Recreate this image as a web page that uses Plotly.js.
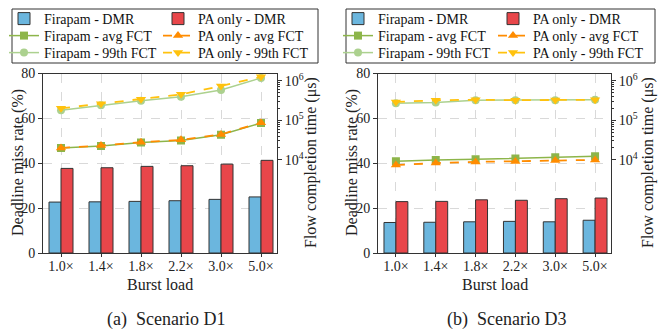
<!DOCTYPE html>
<html><head><meta charset="utf-8">
<script src="https://cdn.plot.ly/plotly-3.0.1.min.js"></script>
<style>body{margin:0;background:#fff}#plot{width:660px;height:331px}</style>
</head><body><div id="plot"></div>
<script>
const categories = ["1.0×","1.4×","1.8×","2.2×","3.0×","5.0×"];
// Scenario D1
const d1FirapamDMR = [22.7, 22.8, 23.0, 23.3, 23.9, 25.0];
const d1PaDMR      = [37.7, 38.0, 38.6, 38.9, 39.6, 41.3];
const d1FirapamAvg = [2.0e4, 2.25e4, 2.75e4, 3.1e4, 4.3e4, 8.5e4];
const d1PaAvg      = [2.0e4, 2.3e4, 2.8e4, 3.2e4, 4.4e4, 8.7e4];
const d1Firapam99  = [1.8e5, 2.4e5, 3.1e5, 3.9e5, 5.8e5, 1.17e6];
const d1Pa99       = [2.0e5, 2.6e5, 3.4e5, 4.5e5, 7.3e5, 1.25e6];
// Scenario D3
const d3FirapamDMR = [13.6, 13.7, 13.9, 14.1, 13.9, 14.6];
const d3PaDMR      = [22.9, 23.0, 23.7, 23.5, 24.2, 24.5];
const d3FirapamAvg = [9.2e3, 1.0e4, 1.03e4, 1.08e4, 1.17e4, 1.23e4];
const d3PaAvg      = [7.4e3, 8.3e3, 8.9e3, 9.1e3, 9.6e3, 1.0e4];
const d3Firapam99  = [2.7e5, 2.8e5, 3.2e5, 3.2e5, 3.2e5, 3.3e5];
const d3Pa99       = [2.9e5, 3.2e5, 3.3e5, 3.2e5, 3.25e5, 3.3e5];
const fctTickVals  = [1e4, 1e5, 1e6];
const fctTickText  = ["10<sup>4</sup>", "10<sup>5</sup>", "10<sup>6</sup>"];
const fctMinorVals = [2e4,3e4,4e4,5e4,6e4,7e4,8e4,9e4,2e5,3e5,4e5,5e5,6e5,7e5,8e5,9e5,2e6,3e6,4e6,5e6];

const FONT = "Liberation Serif";
const C = {blue:"#6bb6de", red:"#e8464a", green:"#8db54a", lgreen:"#acd18f", orange:"#ff8c00", gold:"#ffc20e", edge:"#333"};

function panel(sfx, dmrF, dmrP, avgF, avgP, p99F, p99P, L){
  const xa = sfx === 1 ? "x" : "x" + sfx;
  const ya = sfx === 1 ? "y" : "y" + (2*sfx-1);
  const y2 = sfx === 1 ? "y2" : "y" + (2*sfx);
  return [
    {type:"bar", x:categories, y:dmrF, name:"Firapam - DMR", xaxis:xa, yaxis:ya, offsetgroup:"a",
     marker:{color:C.blue, line:{color:C.edge, width:1}}, legend:L[0], showlegend:true},
    {type:"bar", x:categories, y:dmrP, name:"PA only - DMR", xaxis:xa, yaxis:ya, offsetgroup:"b",
     marker:{color:C.red, line:{color:C.edge, width:1}}, legend:L[1], showlegend:true},
    {type:"scatter", mode:"lines+markers", x:categories, y:avgF, name:"Firapam - avg FCT", xaxis:xa, yaxis:y2,
     line:{color:C.green, width:1.5}, marker:{symbol:"square", size:8, color:C.green}, legend:L[2]},
    {type:"scatter", mode:"lines+markers", x:categories, y:p99F, name:"Firapam - 99th FCT", xaxis:xa, yaxis:y2,
     line:{color:C.lgreen, width:1.5}, marker:{symbol:"circle", size:8, color:C.lgreen}, legend:L[4]},
    {type:"scatter", mode:"lines+markers", x:categories, y:avgP, name:"PA only - avg FCT", xaxis:xa, yaxis:y2,
     line:{color:C.orange, width:1.8, dash:"dash"}, marker:{symbol:"triangle-up", size:9, color:C.orange}, legend:L[3]},
    {type:"scatter", mode:"lines+markers", x:categories, y:p99P, name:"PA only - 99th FCT", xaxis:xa, yaxis:y2,
     line:{color:C.gold, width:1.8, dash:"dash"}, marker:{symbol:"triangle-down", size:9, color:C.gold}, legend:L[5]}
  ];
}

const data = [
  ...panel(1, d1FirapamDMR, d1PaDMR, d1FirapamAvg, d1PaAvg, d1Firapam99, d1Pa99,
    ["legend","legend2","legend3","legend4","legend5","legend6"]),
  ...panel(2, d3FirapamDMR, d3PaDMR, d3FirapamAvg, d3PaAvg, d3Firapam99, d3Pa99,
    ["legend7","legend8","legend9","legend10","legend11","legend12"])
];

const W = 660, H = 331;
const px = v => v / W, py = v => 1 - v / H;
const yDom = [py(253), py(73.5)];
const TF = {size:14, family:FONT, color:"#222"};

function xAxis(dom){
  return {domain:dom, type:"category", range:[-0.45, 5.4], showgrid:true, gridcolor:"#d9d9d9", griddash:"dash", gridwidth:1,
    ticks:"outside", ticklen:3, tickcolor:C.edge, showline:true, linecolor:C.edge, linewidth:1, mirror:true,
    ticklabelstandoff:-3, tickfont:TF};
}
function xTop(over){
  return {overlaying:over, side:"top", range:[-0.45,5.4], tickvals:[0,1,2,3,4,5], ticks:"inside", ticklen:4, tickcolor:C.edge,
    showticklabels:false, showgrid:false, zeroline:false, showline:false};
}
function yLeft(anchor){
  return {domain:yDom, anchor:anchor, range:[0,80], dtick:20, showgrid:true, gridcolor:"#d9d9d9", griddash:"dash",
    ticks:"outside", ticklen:4, tickcolor:C.edge, showline:true, linecolor:C.edge, mirror:true, zeroline:false,
    tickfont:TF};
}
function yRight(over, anchor){
  return {overlaying:over, anchor:anchor, side:"right", type:"log", range:[1.65, 6.18], tickvals:fctTickVals, ticktext:fctTickText,
    showgrid:false, ticks:"outside", ticklen:4, tickcolor:C.edge, showline:true, linecolor:C.edge,
    minor:{tickvals:fctMinorVals, ticks:"outside", ticklen:2, tickcolor:C.edge, showgrid:false},
    tickfont:TF};
}
function leg(xpx, rowCenter){
  return {x:px(xpx), xanchor:"left", y:py(rowCenter), yanchor:"middle", bgcolor:"rgba(0,0,0,0)", borderwidth:0,
    font:{size:14, family:FONT, color:"#111"}, itemwidth:30};
}
const rows = [19, 36, 53];
const colsL = [4, 158], colsR = [338, 493];

const layout = {
  width:W, height:H, margin:{l:0,r:0,t:0,b:0}, paper_bgcolor:"#fff", plot_bgcolor:"#fff",
  font:{family:FONT, size:14, color:"#222"},
  barmode:"group", bargap:0.4, bargroupgap:0,
  xaxis: Object.assign(xAxis([px(43), px(277)]), {anchor:"y"}),
  xaxis2: Object.assign(xAxis([px(378), px(611)]), {anchor:"y3"}),
  xaxis3: Object.assign(xTop("x"), {anchor:"y"}),
  xaxis4: Object.assign(xTop("x2"), {anchor:"y3"}),
  yaxis: yLeft("x"),
  yaxis2: yRight("y", "x"),
  yaxis3: yLeft("x2"),
  yaxis4: yRight("y3", "x2"),
  legend: leg(colsL[0], rows[0]), legend2: leg(colsL[1], rows[0]),
  legend3: leg(colsL[0], rows[1]), legend4: leg(colsL[1], rows[1]),
  legend5: leg(colsL[0], rows[2]), legend6: leg(colsL[1], rows[2]),
  legend7: leg(colsR[0], rows[0]), legend8: leg(colsR[1], rows[0]),
  legend9: leg(colsR[0], rows[1]), legend10: leg(colsR[1], rows[1]),
  legend11: leg(colsR[0], rows[2]), legend12: leg(colsR[1], rows[2]),
  shapes:[
    {type:"rect", xref:"paper", yref:"paper", x0:px(12), x1:px(318), y0:py(63), y1:py(9), line:{color:C.edge, width:1}},
    {type:"rect", xref:"paper", yref:"paper", x0:px(346), x1:px(655), y0:py(63), y1:py(9), line:{color:C.edge, width:1}}
  ],
  annotations:[
    {text:"Deadline miss rate (%)", x:px(18), y:py(163)},
    {text:"Flow completion time (μs)", x:px(311), y:py(163)},
    {text:"Deadline miss rate (%)", x:px(352), y:py(163)},
    {text:"Flow completion time (μs)", x:px(648), y:py(163)}
  ].map(a => Object.assign(a, {xref:"paper", yref:"paper", textangle:-90, showarrow:false, xanchor:"center", yanchor:"middle",
      font:{size:16, family:FONT, color:"#222"}})).concat([
    {text:"Burst load", x:px(160), y:py(284)},
    {text:"Burst load", x:px(494.5), y:py(284)}
  ].map(a => Object.assign(a, {xref:"paper", yref:"paper", showarrow:false, xanchor:"center", yanchor:"middle",
      font:{size:16, family:FONT, color:"#222"}}))).concat([
    {text:"(a)  Scenario D1", x:px(166), y:py(319)},
    {text:"(b)  Scenario D3", x:px(506), y:py(319)}
  ].map(a => Object.assign(a, {xref:"paper", yref:"paper", showarrow:false, xanchor:"center", yanchor:"middle",
      font:{size:18, family:FONT, color:"#222"}})))
};

Plotly.newPlot("plot", data, layout, {displayModeBar:false, staticPlot:true});
</script></body></html>
